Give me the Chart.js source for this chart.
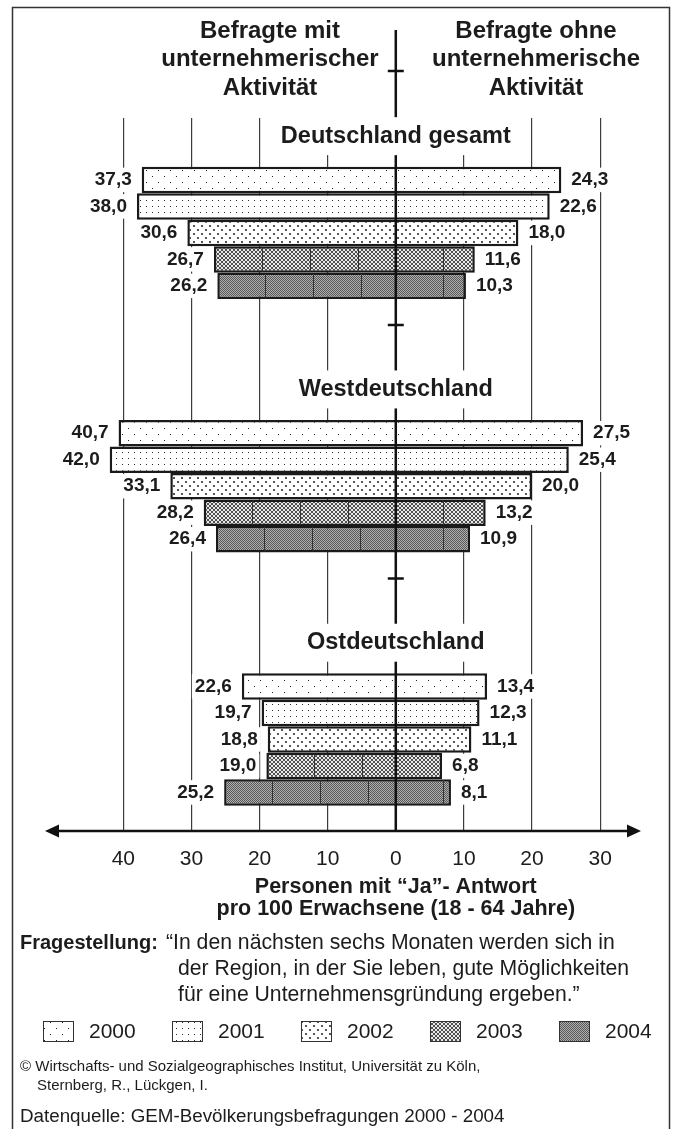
<!DOCTYPE html>
<html>
<head>
<meta charset="utf-8">
<script src="https://cdn.jsdelivr.net/npm/chart.js@4"></script>
<style>
  html, body { margin: 0; padding: 0; background: #fff; }
  #wrap { width: 677px; height: 1129px; position: relative; }
</style>
</head>
<body>
<div id="wrap"><canvas id="chart"></canvas></div>
<script>
'use strict';

const regions = ['Deutschland gesamt', 'Westdeutschland', 'Ostdeutschland'];
const years = ['2000', '2001', '2002', '2003', '2004'];

// Befragte mit unternehmerischer Aktivitaet (left side)
const mitGesamt = [37.3, 38.0, 30.6, 26.7, 26.2];
const mitWest = [40.7, 42.0, 33.1, 28.2, 26.4];
const mitOst = [22.6, 19.7, 18.8, 19.0, 25.2];

// Befragte ohne unternehmerische Aktivitaet (right side)
const ohneGesamt = [24.3, 22.6, 18.0, 11.6, 10.3];
const ohneWest = [27.5, 25.4, 20.0, 13.2, 10.9];
const ohneOst = [13.4, 12.3, 11.1, 6.8, 8.1];

const tickValues = [-40, -30, -20, -10, 0, 10, 20, 30];

const mitAll = [mitGesamt, mitWest, mitOst];
const ohneAll = [ohneGesamt, ohneWest, ohneOst];

const FONT = "'Liberation Sans', Arial, sans-serif";
const INK = '#1c1c1c';

const canvas = document.getElementById('chart');
const mainCtx = canvas.getContext('2d');

// small tile -> repeating fill pattern
function makePattern(w, h, draw) {
  const tile = document.createElement('canvas');
  tile.width = w;
  tile.height = h;
  const g = tile.getContext('2d');
  g.fillStyle = '#fff';
  g.fillRect(0, 0, w, h);
  draw(g);
  return mainCtx.createPattern(tile, 'repeat');
}

function px(g, x, y, color, s) {
  g.fillStyle = color;
  g.fillRect(x, y, s || 1, s || 1);
}

const patterns = [
  // 2000 - sparse staggered dots
  makePattern(12, 12, g => { px(g, 2, 2, '#222'); px(g, 8, 8, '#222'); }),
  // 2001 - regular dot grid
  makePattern(6, 6, g => { px(g, 2, 2, '#2a2a2a'); }),
  // 2002 - dense staggered dots
  makePattern(8, 8, g => { px(g, 1, 1, '#555', 2); px(g, 5, 5, '#555', 2); }),
  // 2003 - grey crosshatch
  makePattern(4, 4, g => {
    g.fillStyle = '#e8e8e8';
    g.fillRect(0, 0, 4, 4);
    [[0, 0], [1, 1], [2, 2], [3, 3], [0, 3], [1, 2], [2, 1], [3, 0]].forEach(p => px(g, p[0], p[1], '#505050'));
  }),
  // 2004 - dark fine dither
  makePattern(2, 2, g => {
    px(g, 0, 0, '#575757'); px(g, 1, 1, '#575757');
    px(g, 1, 0, '#b0b0b0'); px(g, 0, 1, '#b0b0b0');
  })
];

const datasets = years.map((year, i) => ({
  label: year,
  data: regions.map((r, g) => ({ y: g, x: [-mitAll[g][i], ohneAll[g][i]] })),
  backgroundColor: patterns[i],
  borderColor: '#1a1a1a',
  borderWidth: 2.5,
  borderSkipped: false,
  categoryPercentage: 0.523,
  barPercentage: 1
}));

function fmt(v) {
  return v.toFixed(1).replace('.', ',');
}

function knockoutText(ctx, text, x, y, align, boxH, pad) {
  const w = ctx.measureText(text).width;
  const left = align === 'right' ? x - w : (align === 'center' ? x - w / 2 : x);
  ctx.fillStyle = '#fff';
  ctx.fillRect(left - pad, y - boxH / 2, w + pad * 2, boxH);
  ctx.fillStyle = INK;
  ctx.textAlign = align;
  ctx.fillText(text, x, y);
}

const decor = {
  id: 'decor',
  afterDatasetsDraw(chart) {
    const ctx = chart.ctx;
    const xs = chart.scales.x;
    const area = chart.chartArea;
    const x0 = xs.getPixelForValue(0);
    ctx.save();

    // seams in the dark patterns
    ctx.strokeStyle = '#333';
    ctx.lineWidth = 1;
    [3, 4].forEach(di => {
      chart.getDatasetMeta(di).data.forEach((el, g) => {
        const top = el.y - el.height / 2 + 1;
        const bot = el.y + el.height / 2 - 1;
        const pL = xs.getPixelForValue(-mitAll[g][di]);
        const pR = xs.getPixelForValue(ohneAll[g][di]);
        ctx.beginPath();
        for (let s = pL + 48; s < x0 - 3; s += 48) {
          ctx.moveTo(Math.round(s) + 0.5, top); ctx.lineTo(Math.round(s) + 0.5, bot);
        }
        for (let s = x0 + 47; s < pR - 3; s += 48) {
          ctx.moveTo(Math.round(s) + 0.5, top); ctx.lineTo(Math.round(s) + 0.5, bot);
        }
        ctx.stroke();
      });
    });

    // centre line with small cross ticks
    ctx.strokeStyle = '#111';
    ctx.lineWidth = 2.5;
    ctx.beginPath();
    ctx.moveTo(x0, 30);
    ctx.lineTo(x0, area.bottom);
    const crossYs = [71];
    const lastMeta = chart.getDatasetMeta(4);
    lastMeta.data.forEach((el, g) => {
      if (g < regions.length - 1) crossYs.push(el.y + el.height / 2 + 26);
    });
    crossYs.forEach(cy => {
      ctx.moveTo(x0 - 8, cy);
      ctx.lineTo(x0 + 8, cy);
    });
    ctx.stroke();

    // region titles
    ctx.font = 'bold 23.5px ' + FONT;
    ctx.textBaseline = 'middle';
    chart.getDatasetMeta(0).data.forEach((el, g) => {
      const ty = el.y - el.height / 2 - 30.5;
      knockoutText(ctx, regions[g], x0, ty, 'center', 38, 6);
    });

    // value labels
    ctx.font = 'bold 19px ' + FONT;
    years.forEach((year, i) => {
      chart.getDatasetMeta(i).data.forEach((el, g) => {
        const pL = xs.getPixelForValue(-mitAll[g][i]);
        const pR = xs.getPixelForValue(ohneAll[g][i]);
        knockoutText(ctx, fmt(mitAll[g][i]), pL - 10, el.y, 'right', el.height - 2, 3);
        knockoutText(ctx, fmt(ohneAll[g][i]), pR + 10, el.y, 'left', el.height - 2, 3);
      });
    });
    ctx.restore();
  },
  afterDraw(chart) {
    const ctx = chart.ctx;
    const area = chart.chartArea;
    const x0 = chart.scales.x.getPixelForValue(0);
    ctx.save();

    // axis with arrows at both ends
    const ay = area.bottom;
    ctx.strokeStyle = '#111';
    ctx.fillStyle = '#111';
    ctx.lineWidth = 2.5;
    ctx.beginPath();
    ctx.moveTo(area.left + 8, ay);
    ctx.lineTo(area.right - 8, ay);
    ctx.stroke();
    ctx.beginPath();
    ctx.moveTo(area.left, ay);
    ctx.lineTo(area.left + 14, ay - 6.5);
    ctx.lineTo(area.left + 14, ay + 6.5);
    ctx.closePath();
    ctx.moveTo(area.right, ay);
    ctx.lineTo(area.right - 14, ay - 6.5);
    ctx.lineTo(area.right - 14, ay + 6.5);
    ctx.closePath();
    ctx.fill();

    ctx.fillStyle = INK;
    ctx.textBaseline = 'middle';

    // header
    ctx.font = 'bold 24px ' + FONT;
    ctx.textAlign = 'center';
    ['Befragte mit', 'unternehmerischer', 'Aktivität'].forEach((t, i) => ctx.fillText(t, 270, 31 + i * 28.5));
    ['Befragte ohne', 'unternehmerische', 'Aktivität'].forEach((t, i) => ctx.fillText(t, 536, 31 + i * 28.5));

    // axis title
    ctx.font = 'bold 21.5px ' + FONT;
    ctx.fillText('Personen mit \u201cJa\u201d- Antwort', x0, 887);
    ctx.fillText('pro 100 Erwachsene (18 - 64 Jahre)', x0, 909);

    // question
    ctx.textAlign = 'left';
    ctx.font = 'bold 20px ' + FONT;
    ctx.fillText('Fragestellung:', 20, 943);
    ctx.font = '21.2px ' + FONT;
    ctx.fillText('\u201cIn den nächsten sechs Monaten werden sich in', 166, 943);
    ctx.fillText('der Region, in der Sie leben, gute Möglichkeiten', 178, 969);
    ctx.fillText('für eine Unternehmensgründung ergeben.\u201d', 178, 995);

    // legend
    ctx.font = '21px ' + FONT;
    chart.data.datasets.forEach((ds, i) => {
      const bx = 43 + i * 129;
      ctx.fillStyle = ds.backgroundColor;
      ctx.fillRect(bx, 1021, 30, 20);
      ctx.strokeStyle = '#333';
      ctx.lineWidth = 1;
      ctx.strokeRect(bx + 0.5, 1021.5, 30, 20);
      ctx.fillStyle = INK;
      ctx.fillText(ds.label, bx + 46, 1032);
    });

    // source lines
    ctx.font = '15px ' + FONT;
    ctx.fillText('\u00a9 Wirtschafts- und Sozialgeographisches Institut, Universität zu Köln,', 20, 1067);
    ctx.fillText('Sternberg, R., Lückgen, I.', 37, 1086);
    ctx.font = '18.8px ' + FONT;
    ctx.fillText('Datenquelle: GEM-Bevölkerungsbefragungen 2000 - 2004', 20, 1117);

    // frame
    ctx.strokeStyle = '#333';
    ctx.lineWidth = 1.5;
    ctx.strokeRect(12.5, 7.5, 657, 1140);
    ctx.restore();
  }
};

new Chart(canvas, {
  type: 'bar',
  data: { datasets: datasets },
  options: {
    indexAxis: 'y',
    responsive: true,
    maintainAspectRatio: false,
    animation: false,
    layout: { padding: { left: 45, right: 36, top: 118, bottom: 238 } },
    plugins: {
      legend: { display: false },
      tooltip: { enabled: false }
    },
    scales: {
      x: {
        type: 'linear',
        min: -51.5,
        max: 36,
        afterBuildTicks: scale => { scale.ticks = tickValues.map(v => ({ value: v })); },
        afterFit: scale => { scale.height = 60; },
        grid: {
          color: c => (c.tick && c.tick.value === 0 ? 'rgba(0,0,0,0)' : '#3c3c3c'),
          lineWidth: 1.2,
          drawTicks: false
        },
        border: { display: false },
        ticks: {
          callback: v => Math.abs(v),
          font: { family: FONT, size: 21 },
          color: INK,
          padding: 16,
          maxRotation: 0,
          autoSkip: false
        }
      },
      y: {
        type: 'linear',
        reverse: true,
        offset: false,
        min: -0.4536,
        max: 2.3614,
        afterBuildTicks: scale => { scale.ticks = regions.map((r, i) => ({ value: i })); },
        afterFit: scale => { scale.width = 0; },
        grid: { display: false, offset: false },
        border: { display: false },
        ticks: { display: false }
      }
    }
  },
  plugins: [decor]
});
</script>
</body>
</html>
